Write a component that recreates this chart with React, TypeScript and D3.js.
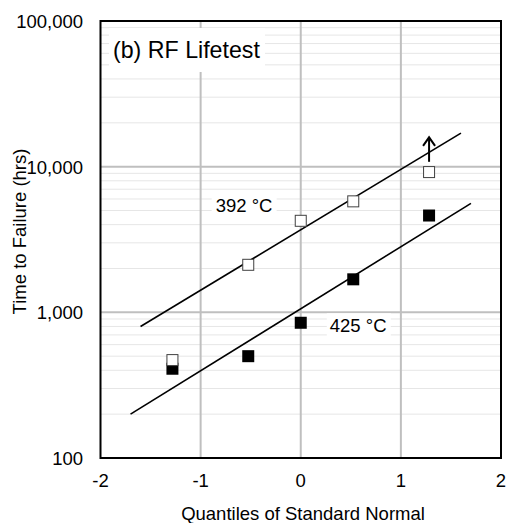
import React from "react";
import * as d3 from "d3";

const quantiles = [-1.2816, -0.5244, 0, 0.5244, 1.2816];
const hours392 = [470, 2120, 4250, 5780, 9180];
const hours425 = [410, 500, 848, 1685, 4620];
const fit392 = [
  { q: -1.6, h: 800 },
  { q: 1.6, h: 17000 },
];
const fit425 = [
  { q: -1.7, h: 200 },
  { q: 1.7, h: 5600 },
];
const arrow = { q: 1.2816, from: 10800, to: 15900 };
const xTicks = [-2, -1, 0, 1, 2];
const yTicks = [100, 1000, 10000, 100000];
const yTickLabels = ["100", "1,000", "10,000", "100,000"];
const title = "(b) RF Lifetest";
const label392 = { text: "392 °C", q: -0.85, h: 4900 };
const label425 = { text: "425 °C", q: 0.29, h: 730 };
const xTitle = "Quantiles of Standard Normal";
const yTitle = "Time to Failure (hrs)";

const W = 508;
const H = 523;
const L = 100.5;
const R = 501;
const T = 21;
const B = 458;
const FONT = "'Liberation Sans', Arial, sans-serif";

export default function App() {
  const x = d3.scaleLinear().domain([-2, 2]).range([L, R]);
  const y = d3.scaleLog().domain([100, 100000]).range([B, T]);
  const line = d3
    .line<{ q: number; h: number }>()
    .x((d) => x(d.q))
    .y((d) => y(d.h));

  const minor: number[] = [];
  for (let dec = 100; dec < 100000; dec *= 10) {
    for (let k = 2; k <= 9; k++) minor.push(dec * k);
  }
  const sq = 12;
  const ax = x(arrow.q);
  const ay1 = y(arrow.from);
  const ay2 = y(arrow.to);

  return (
    <svg
      width={W}
      height={H}
      style={{ position: "fixed", left: 0, top: 0, background: "#fff" }}
      fontFamily={FONT}
    >
      <rect x={0} y={0} width={W} height={H} fill="#fff" />
      {minor.map((v) => (
        <line key={"m" + v} x1={L} x2={R} y1={y(v)} y2={y(v)} stroke="#e6e6e6" strokeWidth={1} />
      ))}
      {yTicks.slice(1, -1).map((v) => (
        <line key={"gy" + v} x1={L} x2={R} y1={y(v)} y2={y(v)} stroke="#bfbfbf" strokeWidth={2} />
      ))}
      {xTicks.slice(1, -1).map((v) => (
        <line key={"gx" + v} x1={x(v)} x2={x(v)} y1={T} y2={B} stroke="#bfbfbf" strokeWidth={2} />
      ))}
      {/* label backgrounds */}
      <rect x={109} y={28} width={156} height={44} fill="#fff" />
      <rect x={x(label392.q) - 4} y={y(label392.h) - 19} width={65} height={25} fill="#fff" />
      <rect x={x(label425.q) - 3} y={y(label425.h) - 19} width={64} height={24} fill="#fff" />

      <text x={113} y={58} fontSize={23.2} fill="#000">
        {title}
      </text>
      <text x={x(label392.q)} y={y(label392.h)} fontSize={18.5} fill="#000">
        {label392.text}
      </text>
      <text x={x(label425.q)} y={y(label425.h)} fontSize={18.5} fill="#000">
        {label425.text}
      </text>

      <path d={line(fit392) || ""} stroke="#000" strokeWidth={1.6} fill="none" />
      <path d={line(fit425) || ""} stroke="#000" strokeWidth={1.6} fill="none" />

      {quantiles.map((q, i) => (
        <rect
          key={"f" + i}
          x={x(q) - sq / 2}
          y={y(hours425[i]) - sq / 2}
          width={sq}
          height={sq}
          fill="#000"
        />
      ))}
      {quantiles.map((q, i) => (
        <rect
          key={"o" + i}
          x={x(q) - sq / 2 + 0.5}
          y={y(hours392[i]) - sq / 2 + 0.5}
          width={sq - 1}
          height={sq - 1}
          fill="#fff"
          stroke="#404040"
          strokeWidth={1}
        />
      ))}

      <line x1={ax} x2={ax} y1={ay1} y2={ay2} stroke="#000" strokeWidth={2} />
      <path
        d={`M${ax - 6},${ay2 + 8.5}L${ax},${ay2}L${ax + 6},${ay2 + 8.5}`}
        stroke="#000"
        strokeWidth={2}
        fill="none"
      />

      <rect x={L} y={T} width={R - L} height={B - T} fill="none" stroke="#000" strokeWidth={2} />

      {xTicks.map((v) => (
        <text key={"xt" + v} x={x(v)} y={487} fontSize={18.5} textAnchor="middle" fill="#000">
          {v}
        </text>
      ))}
      {yTicks.map((v, i) => (
        <text
          key={"yt" + v}
          x={83}
          y={y(v) + 7}
          fontSize={18.5}
          textAnchor="end"
          fill="#000"
        >
          {yTickLabels[i]}
        </text>
      ))}
      <text x={303} y={519.5} fontSize={18.5} textAnchor="middle" fill="#000">
        {xTitle}
      </text>
      <text
        transform={`translate(26,${231.5}) rotate(-90)`}
        fontSize={18.5}
        textAnchor="middle"
        fill="#000"
      >
        {yTitle}
      </text>
    </svg>
  );
}
